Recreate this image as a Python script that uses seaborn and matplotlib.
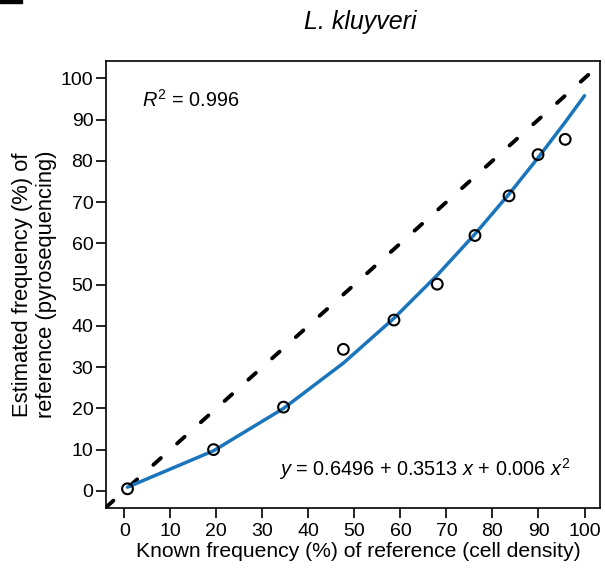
import numpy as np
import pandas as pd
import matplotlib
matplotlib.use("Agg")
import matplotlib.pyplot as plt
import seaborn as sns

known = [0.7, 19.4, 34.6, 47.6, 58.6, 68.0, 76.2, 83.6, 89.9, 95.8]
estimated = [0.5, 10.0, 20.3, 34.3, 41.4, 50.1, 61.9, 71.5, 81.5, 85.2]

# quadratic fit shown on the chart: y = c0 + c1 x + c2 x^2
fit_coef = [0.6496, 0.3513, 0.006]
r_squared = 0.996

ticks = [0, 10, 20, 30, 40, 50, 60, 70, 80, 90, 100]

sns.set_theme(style="ticks")
plt.rcParams['font.family'] = ['Liberation Sans', 'DejaVu Sans']
plt.rcParams['text.color'] = 'black'
plt.rcParams['mathtext.fontset'] = 'custom'
plt.rcParams['mathtext.rm'] = 'Liberation Sans'
plt.rcParams['mathtext.it'] = 'Liberation Sans:italic'

pts = pd.DataFrame({'known': known, 'estimated': estimated})
fit_x = np.array(known + [100.0])
fit = pd.DataFrame({'x': fit_x,
                    'y': fit_coef[0] + fit_coef[1] * fit_x + fit_coef[2] * fit_x ** 2})

fig = plt.figure(figsize=(6.05, 5.79), dpi=100)
ax = fig.add_axes([0.175, 0.123, 0.817, 0.771])

# 1:1 reference line
ax.plot([-4, 101.5], [-4, 101.5], color='black', lw=2.8, ls=(0, (2.6, 5.6)),
        dash_capstyle='round', zorder=2)
sns.lineplot(data=fit, x='x', y='y', ax=ax, color='#1b75bc', lw=2.5, zorder=3)
sns.scatterplot(data=pts, x='known', y='estimated', ax=ax, marker='o', s=60,
                facecolor='none', edgecolor='black', linewidth=1.5, zorder=4)

ax.set_xlim(-4, 103.4)
ax.set_ylim(-4.1, 104.1)
ax.set_xticks(ticks)
ax.set_yticks(ticks)
ax.tick_params(axis='both', labelsize=14, length=7, width=1.2, color='black',
               labelcolor='black', direction='out')
ax.tick_params(axis='x', pad=4)
ax.tick_params(axis='y', pad=2)
for sp in ax.spines.values():
    sp.set_visible(True)
    sp.set_linewidth(1.2)
    sp.set_color('black')

ax.set_xlabel('Known frequency (%) of reference (cell density)', fontsize=15.2,
              color='black')
ax.set_ylabel('Estimated frequency (%) of\nreference (pyrosequencing)', fontsize=15.8,
              color='black', linespacing=1.15)
ax.xaxis.set_label_coords(0.51, -0.099)
ax.xaxis.label.set_va('center')
ax.yaxis.set_label_coords(-0.144, 0.5)
ax.yaxis.label.set_va('center')
ax.set_title('L. kluyveri', fontsize=18, style='italic', color='black',
             x=0.514, y=1.0, pad=23)

ax.text(0.074, 0.914, r'$R^2$ = 0.996', transform=ax.transAxes, fontsize=14.3,
        ha='left', va='center', color='black')
ax.text(0.94, 0.087, r'$y$ = 0.6496 + 0.3513 $x$ + 0.006 $x^2$',
        transform=ax.transAxes, fontsize=14.3, ha='right', va='center', color='black')

# cropped panel letter remnant at the top-left corner
fig.patches.append(plt.Rectangle((0.0, 0.994), 0.036, 0.006, transform=fig.transFigure,
                                 color='black', figure=fig))

fig.savefig('out.png', dpi=100)
